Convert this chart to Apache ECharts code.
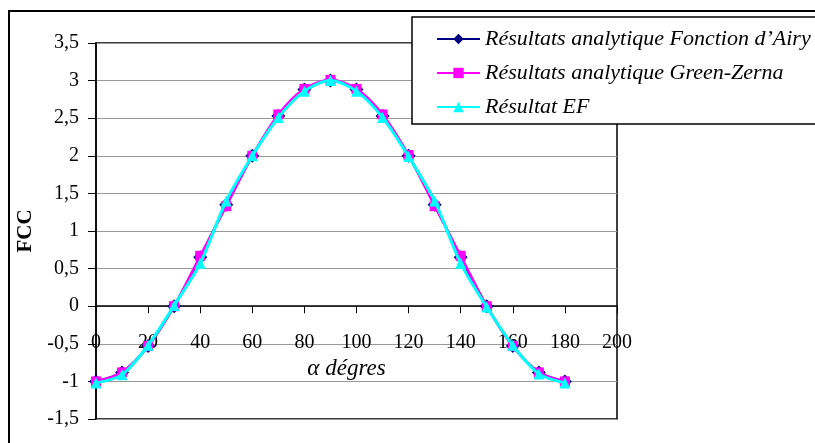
<!DOCTYPE html>
<html>
<head>
<meta charset="utf-8">
<script src="https://cdn.jsdelivr.net/npm/echarts@6/dist/echarts.min.js"></script>
<style>
  html, body { margin: 0; padding: 0; background: #fff; }
  #chart { width: 815px; height: 443px; }
</style>
</head>
<body>
<div id="chart"></div>
<script>
// Angle α in degrees
const angles = [0, 10, 20, 30, 40, 50, 60, 70, 80, 90, 100, 110, 120, 130, 140, 150, 160, 170, 180];

// FCC values for each method
const airy = [-1, -0.88, -0.53, 0, 0.65, 1.35, 2, 2.53, 2.88, 3, 2.88, 2.53, 2, 1.35, 0.65, 0, -0.53, -0.88, -1];
const greenZerna = [-1, -0.88, -0.53, 0, 0.67, 1.33, 2, 2.55, 2.89, 3.01, 2.89, 2.55, 2.01, 1.33, 0.67, 0, -0.53, -0.88, -1];
const ef = [-1.02, -0.91, -0.52, 0.01, 0.57, 1.40, 2.0, 2.51, 2.86, 3.0, 2.86, 2.51, 1.99, 1.40, 0.57, -0.01, -0.52, -0.90, -1.02];

const names = [
  'Résultats analytique Fonction d\u2019Airy',
  'Résultats analytique Green-Zerna',
  'Résultat EF'
];

const yTicks = ['-1,5', '-1', '-0,5', '0', '0,5', '1', '1,5', '2', '2,5', '3', '3,5'];

const pairs = arr => angles.map((a, i) => [a, arr[i]]);
const serif = '"Liberation Serif", "DejaVu Serif", serif';

const chart = echarts.init(document.getElementById('chart'), null, { renderer: 'canvas' });

chart.setOption({
  animation: false,
  backgroundColor: '#fff',
  textStyle: { fontFamily: serif },
  grid: {
    left: 96, top: 43, right: 198, bottom: 24,
    outerBoundsMode: 'none', containLabel: false,
    show: true, borderColor: '#000', borderWidth: 1.5, backgroundColor: 'transparent'
  },
  legend: {
    orient: 'vertical',
    left: 431, top: 22, z: 20,
    itemWidth: 43, itemHeight: 13, itemGap: 10,
    textStyle: { fontFamily: serif, fontStyle: 'italic', fontSize: 22, lineHeight: 24, color: '#000' },
    data: names
  },
  graphic: [
    {
      type: 'rect', silent: true, z: 0,
      shape: { x: 9, y: 11, width: 820, height: 450 },
      style: { fill: 'none', stroke: '#000', lineWidth: 2 }
    },
    {
      type: 'rect', silent: true, z: 15,
      shape: { x: 412, y: 17, width: 420, height: 107 },
      style: { fill: '#fff', stroke: '#000', lineWidth: 1.5 }
    }
  ],
  xAxis: {
    type: 'value', min: 0, max: 200, interval: 20,
    name: 'α dégres', nameLocation: 'middle', nameGap: -63,
    nameTextStyle: { fontFamily: serif, fontStyle: 'italic', fontSize: 23, color: '#000', padding: [0, 20, 0, 0] },
    axisLine: { onZero: true, lineStyle: { color: '#000', width: 1.5 } },
    axisTick: { show: true, inside: false, length: 7, lineStyle: { color: '#000' } },
    axisLabel: { margin: -86, fontFamily: serif, fontSize: 20, color: '#000' },
    splitLine: { show: false }
  },
  yAxis: {
    type: 'value', min: -1.5, max: 3.5, interval: 0.5,
    name: 'FCC', nameLocation: 'middle', nameGap: 58, nameRotate: 90,
    nameTextStyle: { fontFamily: serif, fontWeight: 'bold', fontSize: 21, color: '#000' },
    axisLine: { show: true, lineStyle: { color: '#000', width: 1.5 } },
    axisTick: { show: true, length: 8, lineStyle: { color: '#000' } },
    axisLabel: {
      margin: 17, fontFamily: serif, fontSize: 20, color: '#000',
      formatter: v => yTicks[Math.round((v + 1.5) / 0.5)]
    },
    splitLine: { show: true, lineStyle: { color: '#999', width: 1.2 } }
  },
  series: [
    {
      name: names[0], type: 'line', data: pairs(airy), smooth: 0.3,
      symbol: 'diamond', symbolSize: 14,
      lineStyle: { color: '#000080', width: 2.5 },
      itemStyle: { color: '#000080' }, z: 2
    },
    {
      name: names[1], type: 'line', data: pairs(greenZerna), smooth: 0.3,
      symbol: 'rect', symbolSize: 10,
      lineStyle: { color: '#ff00ff', width: 2.5 },
      itemStyle: { color: '#ff00ff' }, z: 3
    },
    {
      name: names[2], type: 'line', data: pairs(ef), smooth: 0.3,
      symbol: 'triangle', symbolSize: 11,
      lineStyle: { color: '#00ffff', width: 3 },
      itemStyle: { color: '#00ffff' }, z: 4
    }
  ]
});
</script>
</body>
</html>
